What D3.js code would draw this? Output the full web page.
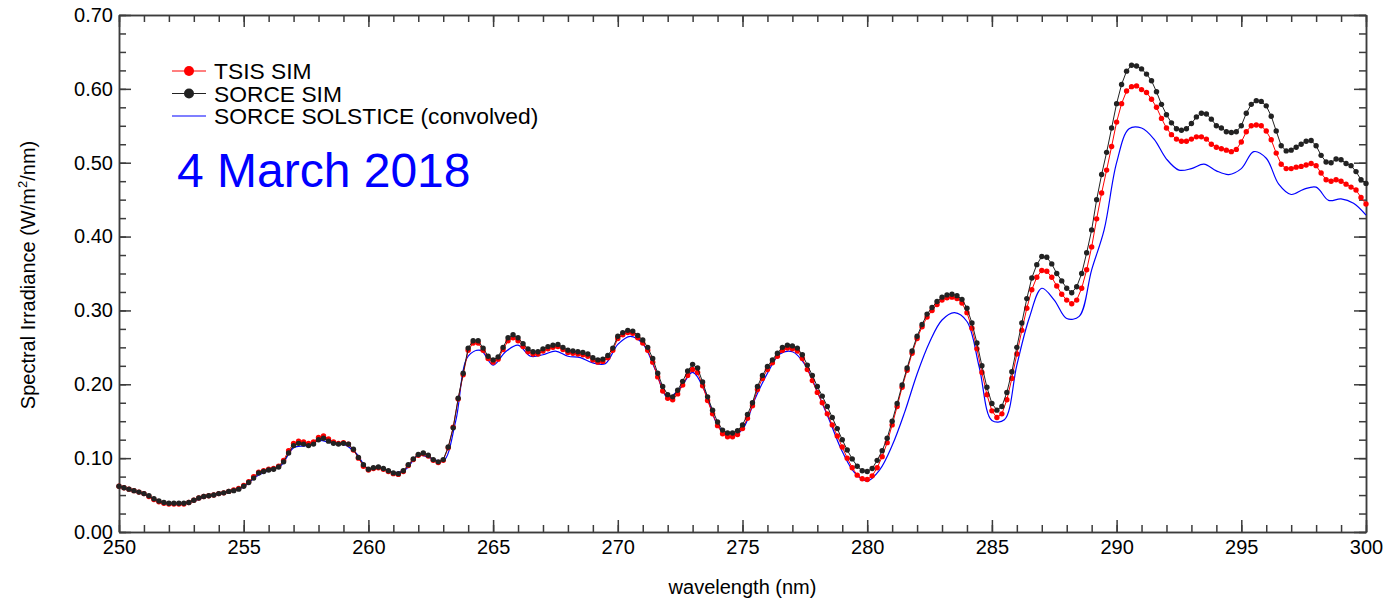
<!DOCTYPE html>
<html>
<head>
<meta charset="utf-8">
<script src="https://cdn.jsdelivr.net/npm/d3@7"></script>
<style>
  body { margin: 0; background: #fff; }
  svg text { font-family: "Liberation Sans", Arial, Helvetica, sans-serif; }
</style>
</head>
<body>
<script>
const seriesNames = ['TSIS SIM', 'SORCE SIM', 'SORCE SOLSTICE (convolved)'];
const dateLabel = '4 March 2018';
const xTitle = 'wavelength (nm)';

// SIM spectra, one sample every 0.2 nm from 250 to 300 nm (10 per row = 2 nm)
const simWavelengths = d3.range(0, 251).map(i => 250 + i * 0.2);
const tsisSim = [
  0.062,0.060,0.058,0.056,0.054,0.052,0.048,0.044,0.041,0.039, // 250
  0.038,0.038,0.038,0.038,0.040,0.043,0.046,0.048,0.049,0.050, // 252
  0.052,0.053,0.055,0.057,0.059,0.063,0.068,0.075,0.081,0.083, // 254
  0.085,0.086,0.089,0.097,0.110,0.120,0.123,0.122,0.120,0.122, // 256
  0.128,0.130,0.126,0.122,0.120,0.121,0.119,0.111,0.100,0.089, // 258
  0.084,0.086,0.087,0.085,0.082,0.079,0.078,0.082,0.090,0.098, // 260
  0.104,0.106,0.103,0.097,0.094,0.097,0.114,0.142,0.180,0.213, // 262
  0.246,0.256,0.256,0.246,0.235,0.230,0.234,0.247,0.259,0.263, // 264
  0.259,0.251,0.244,0.241,0.241,0.245,0.248,0.250,0.251,0.247, // 266
  0.243,0.242,0.241,0.240,0.238,0.233,0.230,0.231,0.236,0.246, // 268
  0.262,0.267,0.270,0.269,0.263,0.256,0.246,0.230,0.210,0.191, // 270
  0.181,0.179,0.187,0.199,0.212,0.220,0.216,0.198,0.178,0.160, // 272
  0.144,0.133,0.129,0.129,0.132,0.140,0.154,0.171,0.193,0.208, // 274
  0.220,0.229,0.238,0.246,0.249,0.248,0.245,0.235,0.220,0.205, // 276
  0.189,0.175,0.160,0.145,0.130,0.115,0.100,0.087,0.077,0.072, // 278
  0.071,0.076,0.087,0.102,0.121,0.145,0.170,0.196,0.219,0.242, // 280
  0.262,0.278,0.291,0.300,0.308,0.314,0.317,0.318,0.316,0.310, // 282
  0.297,0.276,0.248,0.216,0.186,0.164,0.155,0.160,0.179,0.208, // 284
  0.241,0.273,0.303,0.328,0.345,0.354,0.353,0.345,0.333,0.322, // 286
  0.314,0.309,0.314,0.330,0.355,0.386,0.424,0.459,0.490,0.522, // 288
  0.555,0.580,0.597,0.603,0.604,0.599,0.595,0.586,0.575,0.560, // 290
  0.547,0.538,0.532,0.529,0.529,0.532,0.535,0.535,0.532,0.525, // 292
  0.521,0.519,0.517,0.515,0.518,0.528,0.542,0.550,0.551,0.550, // 294
  0.543,0.531,0.513,0.498,0.492,0.492,0.494,0.495,0.497,0.499, // 296
  0.496,0.486,0.477,0.475,0.477,0.475,0.471,0.467,0.463,0.453, // 298
  0.444                                                        // 300
];
const sorceSim = [
  0.062,0.060,0.058,0.056,0.054,0.052,0.049,0.045,0.042,0.040, // 250
  0.039,0.039,0.039,0.039,0.040,0.043,0.046,0.048,0.049,0.050, // 252
  0.052,0.053,0.055,0.056,0.058,0.062,0.067,0.073,0.080,0.082, // 254
  0.084,0.085,0.088,0.095,0.107,0.117,0.120,0.119,0.117,0.119, // 256
  0.125,0.127,0.123,0.120,0.119,0.120,0.119,0.112,0.101,0.091, // 258
  0.085,0.087,0.088,0.086,0.083,0.080,0.079,0.083,0.091,0.099, // 260
  0.105,0.107,0.104,0.098,0.095,0.098,0.115,0.141,0.181,0.215, // 262
  0.249,0.259,0.259,0.249,0.238,0.233,0.237,0.250,0.263,0.267, // 264
  0.263,0.255,0.248,0.244,0.244,0.248,0.251,0.253,0.254,0.250, // 266
  0.246,0.245,0.244,0.243,0.241,0.236,0.233,0.234,0.239,0.249, // 268
  0.265,0.270,0.273,0.272,0.266,0.260,0.250,0.235,0.215,0.197, // 270
  0.186,0.183,0.192,0.204,0.218,0.227,0.222,0.203,0.183,0.165, // 272
  0.149,0.138,0.134,0.134,0.137,0.145,0.159,0.175,0.197,0.212, // 274
  0.224,0.233,0.242,0.250,0.253,0.252,0.249,0.240,0.226,0.212, // 276
  0.197,0.184,0.170,0.155,0.140,0.125,0.111,0.099,0.089,0.083, // 278
  0.082,0.086,0.097,0.110,0.127,0.150,0.174,0.199,0.222,0.245, // 280
  0.265,0.281,0.295,0.304,0.312,0.318,0.321,0.322,0.320,0.315, // 282
  0.303,0.283,0.256,0.225,0.196,0.174,0.165,0.170,0.189,0.217, // 284
  0.250,0.283,0.316,0.344,0.362,0.373,0.372,0.363,0.350,0.340, // 286
  0.330,0.324,0.332,0.350,0.378,0.409,0.450,0.484,0.514,0.547, // 288
  0.580,0.606,0.624,0.632,0.631,0.627,0.620,0.611,0.596,0.579, // 290
  0.565,0.554,0.546,0.544,0.546,0.553,0.562,0.567,0.566,0.559, // 292
  0.550,0.547,0.542,0.541,0.542,0.550,0.567,0.579,0.584,0.583, // 294
  0.577,0.563,0.543,0.523,0.516,0.517,0.521,0.525,0.529,0.530, // 296
  0.523,0.510,0.501,0.500,0.505,0.504,0.499,0.496,0.488,0.477, // 298
  0.472                                                        // 300
];

// SOLSTICE convolved to SIM resolution, every 0.5 nm (10 per row = 5 nm)
const solsticeWavelengths = d3.range(0, 101).map(i => 250 + i * 0.5);
const sorceSolstice = [
  0.061,0.056,0.051,0.043,0.038,0.038,0.042,0.048,0.051,0.055, // 250
  0.061,0.075,0.083,0.090,0.114,0.117,0.124,0.121,0.119,0.107, // 255
  0.085,0.087,0.080,0.085,0.104,0.100,0.096,0.150,0.238,0.246, // 260
  0.226,0.244,0.253,0.238,0.240,0.245,0.238,0.236,0.229,0.228, // 265
  0.254,0.265,0.255,0.220,0.182,0.195,0.216,0.190,0.145,0.129, // 270
  0.139,0.180,0.215,0.241,0.244,0.227,0.190,0.150,0.109,0.080, // 275
  0.069,0.084,0.117,0.162,0.214,0.257,0.287,0.297,0.285,0.222, // 280
  0.151,0.152,0.226,0.290,0.330,0.314,0.289,0.292,0.355,0.409, // 285
  0.500,0.546,0.547,0.532,0.505,0.490,0.492,0.498,0.489,0.484, // 290
  0.492,0.515,0.506,0.471,0.457,0.464,0.467,0.449,0.451,0.445, // 295
  0.429                                                        // 300
];

const xTicks = [250, 255, 260, 265, 270, 275, 280, 285, 290, 295, 300];
const xMinorTicks = d3.range(250, 301, 1);
const yTicks = [0, 0.1, 0.2, 0.3, 0.4, 0.5, 0.6, 0.7];
const yMinorTicks = d3.range(0, 29).map(i => i * 0.025);

const w = 1387;
const h = 600;
const plotLeft = 119, plotRight = 1366, plotTop = 15, plotBottom = 532;
const red = '#ff0000', black = '#222222', blue = '#0000ff';

const svg = d3.select('body')
              .append('svg')
              .attr('width', w)
              .attr('height', h)
              .style('background', '#fff')

const x = d3.scaleLinear().domain([250, 300]).range([plotLeft, plotRight]);
const y = d3.scaleLinear().domain([0, 0.7]).range([plotBottom, plotTop]);

function drawAxis(axis, transform, labels) {
  const g = svg.append('g')
               .attr('transform', transform)
               .call(axis)
  g.attr('font-family', '"Liberation Sans", Arial, sans-serif')
   .attr('font-size', 20)
  g.selectAll('.domain, line')
   .attr('stroke', '#3c3c3c')
   .attr('stroke-width', 1.5)
  g.selectAll('text').attr('fill', '#000')
  if (!labels) g.selectAll('text').remove();
  return g;
}

// minor ticks first, then majors with labels, on all four sides (ticks point inward)
drawAxis(d3.axisBottom(x).tickValues(xMinorTicks).tickSize(-7).tickSizeOuter(0), `translate(0,${plotBottom})`, false)
drawAxis(d3.axisTop(x).tickValues(xMinorTicks).tickSize(-7).tickSizeOuter(0), `translate(0,${plotTop})`, false)
drawAxis(d3.axisLeft(y).tickValues(yMinorTicks).tickSize(-7).tickSizeOuter(0), `translate(${plotLeft},0)`, false)
drawAxis(d3.axisRight(y).tickValues(yMinorTicks).tickSize(-7).tickSizeOuter(0), `translate(${plotRight},0)`, false)

drawAxis(d3.axisBottom(x).tickValues(xTicks).tickSize(-12).tickSizeOuter(0)
           .tickPadding(8).tickFormat(d3.format('d')), `translate(0,${plotBottom})`, true)
drawAxis(d3.axisTop(x).tickValues(xTicks).tickSize(-12).tickSizeOuter(0), `translate(0,${plotTop})`, false)
drawAxis(d3.axisLeft(y).tickValues(yTicks).tickSize(-12).tickSizeOuter(0)
           .tickPadding(6).tickFormat(d3.format('.2f')), `translate(${plotLeft},0)`, true)
drawAxis(d3.axisRight(y).tickValues(yTicks).tickSize(-12).tickSizeOuter(0), `translate(${plotRight},0)`, false)

// axis titles
svg.append('text')
   .attr('x', (plotLeft + plotRight) / 2)
   .attr('y', 594)
   .attr('text-anchor', 'middle')
   .attr('font-size', 20)
   .text(xTitle)

const yTitle = svg.append('text')
                  .attr('transform', 'translate(35,275) rotate(-90)')
                  .attr('text-anchor', 'middle')
                  .attr('font-size', 20)
yTitle.append('tspan').text('Spectral Irradiance (W/m')
yTitle.append('tspan').attr('font-size', 13).attr('dy', -8).text('2')
yTitle.append('tspan').attr('dy', 8).text('/nm)')

// spectra
const simLine = d3.line().x(d => x(d[0])).y(d => y(d[1]));
const smoothLine = d3.line().x(d => x(d[0])).y(d => y(d[1])).curve(d3.curveCatmullRom);

const solsticeData = solsticeWavelengths.map((wl, i) => [wl, sorceSolstice[i]]);
const tsisData = simWavelengths.map((wl, i) => [wl, tsisSim[i]]);
const sorceData = simWavelengths.map((wl, i) => [wl, sorceSim[i]]);

svg.append('path')
   .datum(solsticeData)
   .attr('d', smoothLine)
   .attr('fill', 'none')
   .attr('stroke', blue)
   .attr('stroke-width', 1.2)

function drawSim(data, color) {
  svg.append('path')
     .datum(data)
     .attr('d', simLine)
     .attr('fill', 'none')
     .attr('stroke', color)
     .attr('stroke-width', 1)
  svg.append('g')
     .selectAll('circle')
     .data(data)
     .enter()
     .append('circle')
     .attr('cx', d => x(d[0]))
     .attr('cy', d => y(d[1]))
     .attr('r', 2.7)
     .attr('fill', color)
}
drawSim(tsisData, red)
drawSim(sorceData, black)

// legend
const legendColors = [red, black, blue];
const legend = svg.append('g')
                  .attr('id', 'legend')
                  .selectAll('g')
                  .data(seriesNames)
                  .enter()
                  .append('g')
                  .attr('transform', (d, i) => `translate(172,${71 + i * 22.5})`)
legend.append('line')
      .attr('x1', 0)
      .attr('x2', 34)
      .attr('stroke', (d, i) => legendColors[i])
      .attr('stroke-width', 1.2)
legend.filter((d, i) => i < 2)
      .append('circle')
      .attr('cx', 17)
      .attr('r', 5)
      .attr('fill', (d, i) => legendColors[i])
legend.append('text')
      .attr('x', 42)
      .attr('y', 8)
      .attr('font-size', 22.8)
      .text(d => d)

svg.append('text')
   .attr('x', 177)
   .attr('y', 187)
   .attr('font-size', 48)
   .attr('fill', blue)
   .text(dateLabel)
</script>
</body>
</html>
